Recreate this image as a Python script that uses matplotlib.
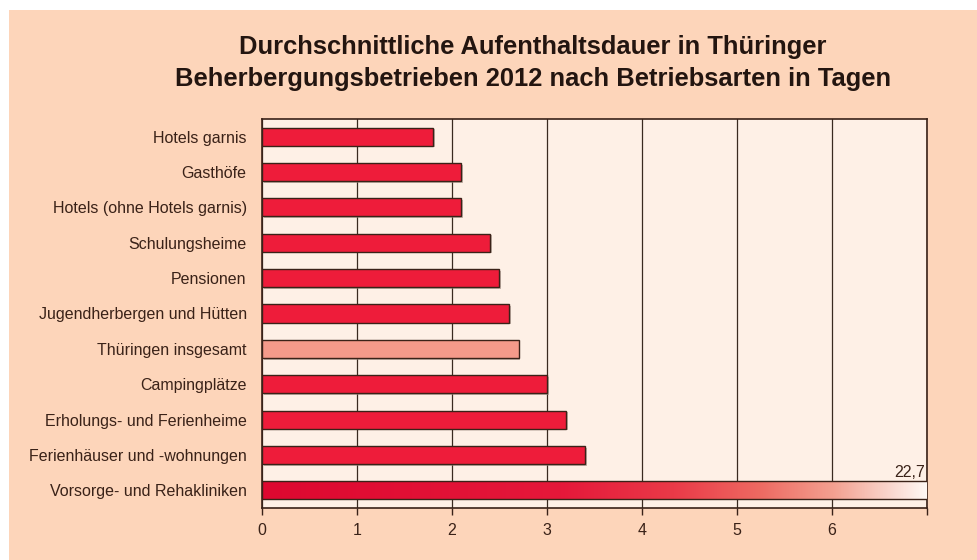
import matplotlib
matplotlib.use("Agg")
import matplotlib.pyplot as plt
import numpy as np
from matplotlib.colors import LinearSegmentedColormap
from matplotlib.patches import Rectangle
import matplotlib.patheffects as pe

categories = [
    "Hotels garnis",
    "Gasthöfe",
    "Hotels (ohne Hotels garnis)",
    "Schulungsheime",
    "Pensionen",
    "Jugendherbergen und Hütten",
    "Thüringen insgesamt",
    "Campingplätze",
    "Erholungs- und Ferienheime",
    "Ferienhäuser und -wohnungen",
    "Vorsorge- und Rehakliniken",
]
values = [1.8, 2.1, 2.1, 2.4, 2.5, 2.6, 2.7, 3.0, 3.2, 3.4, 22.7]
value_labels = ["", "", "", "", "", "", "", "", "", "", "22,7"]
xticks = [0, 1, 2, 3, 4, 5, 6]
xmax = 7

plt.rcParams['font.family'] = ['Liberation Sans', 'DejaVu Sans']

fig = plt.figure(figsize=(9.78, 5.6), dpi=100)
fig.patch.set_facecolor("white")
fig.patches.append(Rectangle((9/978, 0), 1, 1 - 10/560, transform=fig.transFigure,
                             facecolor="#FDD5BA", edgecolor="none", zorder=-10))

ax = fig.add_axes([262/978, 52/560, 665/978, 389/560])
ax.set_facecolor("#FEF0E6")

dark = "#3a2218"
bar_colors = ["#EE1C3A"] * len(values)
bar_colors[categories.index("Thüringen insgesamt")] = "#F59A8A"

y = np.arange(len(categories))
bars = ax.barh(y, values, height=0.51, color=bar_colors, edgecolor=dark,
               linewidth=1.0, zorder=3)
for b in bars:
    b.set_path_effects([pe.SimplePatchShadow(offset=(1.2, -1.2), shadow_rgbFace="#9a8a80", alpha=0.6),
                        pe.Normal()])

ax.set_xlim(0, xmax)

# gradient fill for clipped last bar
cmap = LinearSegmentedColormap.from_list("grad", [
    (0.0, "#DE0830"), (0.45, "#E5183A"), (0.62, "#EA3A48"),
    (0.75, "#EE6A62"), (0.86, "#F3A090"), (1.0, "#FFF8F4")])
last = bars[-1]
grad = np.linspace(0, 1, 256).reshape(1, -1)
yl = y[-1]
img = ax.imshow(grad, cmap=cmap, aspect="auto",
                extent=(0, xmax, yl + 0.255, yl - 0.255), zorder=3.5)
img.set_clip_path(last)
last.set_facecolor("none")
last.set_path_effects([])
last.set_zorder(4)
ax.set_ylim(len(categories) - 0.5, -0.5)

for i, (v, lab) in enumerate(zip(values, value_labels)):
    if lab:
        ax.text(min(v, xmax) - 0.02, i - 0.3, lab, ha="right", va="bottom",
                fontsize=11.5, color=dark, zorder=5)

ax.set_xticks(xticks + [xmax])
ax.set_xticklabels([str(t) for t in xticks] + [""])
ax.set_yticks(y)
ax.set_yticklabels(categories)
ax.tick_params(axis="x", length=5, width=1, color=dark, labelsize=11.5,
               labelcolor=dark, direction="out", pad=6)
ax.tick_params(axis="y", length=0, labelsize=11.5, labelcolor=dark, pad=11)
ax.grid(axis="x", color="#3a2a20", linewidth=0.9, zorder=1)
ax.set_axisbelow(True)
for s in ["left", "bottom", "top", "right"]:
    ax.spines[s].set_color(dark)
    ax.spines[s].set_linewidth(1.2)

fig.text(533/978, 1 - 63/560,
         "Durchschnittliche Aufenthaltsdauer in Thüringer\nBeherbergungsbetrieben 2012 nach Betriebsarten in Tagen",
         ha="center", va="center", fontsize=18.4, fontweight="bold",
         color="#231510", linespacing=1.45)

fig.savefig("out.png", dpi=100, facecolor=fig.get_facecolor())
